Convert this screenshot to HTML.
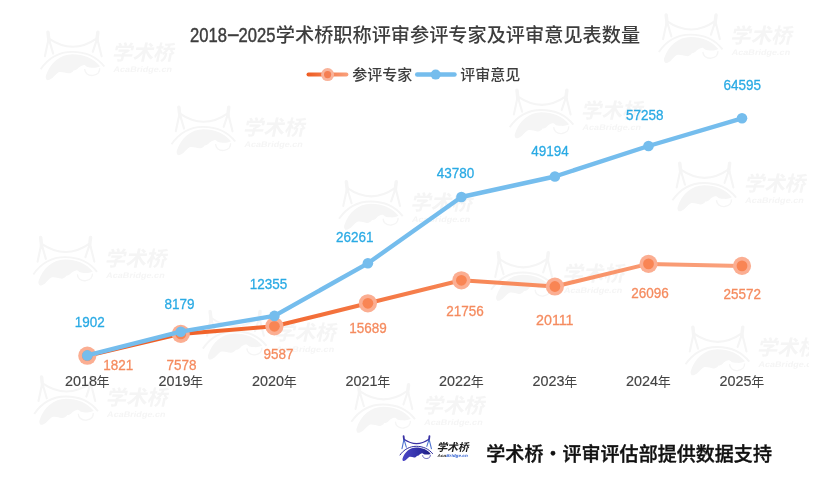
<!DOCTYPE html>
<html lang="zh-CN"><head><meta charset="utf-8"><title>2018-2025学术桥职称评审参评专家及评审意见表数量</title>
<style>
html,body{margin:0;padding:0;background:#fff;}
body{width:831px;height:483px;overflow:hidden;}
svg{display:block;}
text{font-family:"Liberation Sans","Noto Sans CJK SC",sans-serif;}
.cj{font-family:"Noto Sans CJK SC","Liberation Sans",sans-serif;}
</style></head><body>
<svg width="831" height="483" viewBox="0 0 831 483">
<defs>
<linearGradient id="og" gradientUnits="userSpaceOnUse" x1="87" y1="0" x2="742" y2="0">
<stop offset="0" stop-color="#EE5A1F"/><stop offset="0.3" stop-color="#F26A33"/><stop offset="0.6" stop-color="#F78858"/><stop offset="1" stop-color="#FAA27E"/>
</linearGradient>
<linearGradient id="lg" gradientUnits="userSpaceOnUse" x1="306" y1="0" x2="349" y2="0">
<stop offset="0" stop-color="#EE5A1F"/><stop offset="1" stop-color="#FAA27E"/>
</linearGradient>
<clipPath id="wmclip"><rect x="20" y="0" width="789" height="483"/></clipPath>
<linearGradient id="gg" x1="0" y1="0" x2="1" y2="0"><stop offset="0" stop-color="#4A45C6"/><stop offset="0.6" stop-color="#3030A6"/><stop offset="1" stop-color="#1C1C82"/></linearGradient>
<filter id="wb" x="0" y="0" width="831" height="483" filterUnits="userSpaceOnUse"><feGaussianBlur stdDeviation="0.6"/></filter>
</defs>
<rect width="831" height="483" fill="#fff"/>

<g clip-path="url(#wmclip)" filter="url(#wb)"><g transform="translate(41.6,31.4) scale(1.930)" opacity="1.0">
<path d="M3.3,0.4 L3.8,4.9 M29.15,0.4 L28.6,4.9" stroke="#f5f5f5" stroke-width="1.8" stroke-linecap="round" fill="none"/>
<path d="M3.6,4 L1.7,12.9 M3.8,4 L6,11.5 M28.7,4 L26.5,10.6 M28.9,4 L31.1,12.9" stroke="#f5f5f5" stroke-width="1.1" stroke-linecap="round" fill="none"/>
<path d="M3.65,3.6 Q16.3,12.3 28.6,3.6" stroke="#f5f5f5" stroke-width="1.05" fill="none"/>
<path d="M-0.5,19.6 C3.6,13.6 9.6,10.6 15.9,10.6 C22.6,10.6 28.6,13.2 32.5,18.2" stroke="#f5f5f5" stroke-width="1" fill="none"/>
<path d="M2.2,23 C4.4,16.2 9.6,11.8 16,11.8 C21.8,11.8 27,14 30.3,18 C28.6,19 27,18.9 25.8,18.8 C24.6,18.7 23.8,18.5 23.2,18.2 C22.6,17.6 22.2,17.3 21.6,17.5 C20.4,17.9 19.6,18.4 19,19 C18.4,19.8 17.4,20.2 16.6,20.2 C16,21.2 14.8,21.9 13.8,21.7 C12.2,21.5 10.4,20.7 8.8,21.2 C7.6,22 6.6,23.2 5.6,24.2 C4.6,25 3.4,25.4 2.7,25.2 C2.2,24.6 2,23.8 2.2,23 Z" fill="#f5f5f5"/>
<path d="M22.3,19.5 C22.4,20.6 22.8,21.4 23.4,21.9 C24.4,22.7 25.6,22.9 26.6,22.8 C27.8,22.6 28.8,22.2 29.3,21.6 C29.9,20.8 30.2,19.9 30.1,19.1" stroke="#f5f5f5" stroke-width="0.7" fill="none"/>
<text class="cj" transform="translate(36.4,15) skewX(-12)" font-size="10.7" font-weight="700" fill="#f5f5f5" textLength="32" lengthAdjust="spacingAndGlyphs">学术桥</text>
<text transform="translate(37,21.2) skewX(-12)" font-size="4.2" font-weight="700" textLength="30.3" lengthAdjust="spacingAndGlyphs"><tspan fill="#f5f5f5">Aca</tspan><tspan fill="#f5f5f5">Bridge.cn</tspan></text>
</g>
<g transform="translate(172.5,106.4) scale(1.930)" opacity="1.0">
<path d="M3.3,0.4 L3.8,4.9 M29.15,0.4 L28.6,4.9" stroke="#f5f5f5" stroke-width="1.8" stroke-linecap="round" fill="none"/>
<path d="M3.6,4 L1.7,12.9 M3.8,4 L6,11.5 M28.7,4 L26.5,10.6 M28.9,4 L31.1,12.9" stroke="#f5f5f5" stroke-width="1.1" stroke-linecap="round" fill="none"/>
<path d="M3.65,3.6 Q16.3,12.3 28.6,3.6" stroke="#f5f5f5" stroke-width="1.05" fill="none"/>
<path d="M-0.5,19.6 C3.6,13.6 9.6,10.6 15.9,10.6 C22.6,10.6 28.6,13.2 32.5,18.2" stroke="#f5f5f5" stroke-width="1" fill="none"/>
<path d="M2.2,23 C4.4,16.2 9.6,11.8 16,11.8 C21.8,11.8 27,14 30.3,18 C28.6,19 27,18.9 25.8,18.8 C24.6,18.7 23.8,18.5 23.2,18.2 C22.6,17.6 22.2,17.3 21.6,17.5 C20.4,17.9 19.6,18.4 19,19 C18.4,19.8 17.4,20.2 16.6,20.2 C16,21.2 14.8,21.9 13.8,21.7 C12.2,21.5 10.4,20.7 8.8,21.2 C7.6,22 6.6,23.2 5.6,24.2 C4.6,25 3.4,25.4 2.7,25.2 C2.2,24.6 2,23.8 2.2,23 Z" fill="#f5f5f5"/>
<path d="M22.3,19.5 C22.4,20.6 22.8,21.4 23.4,21.9 C24.4,22.7 25.6,22.9 26.6,22.8 C27.8,22.6 28.8,22.2 29.3,21.6 C29.9,20.8 30.2,19.9 30.1,19.1" stroke="#f5f5f5" stroke-width="0.7" fill="none"/>
<text class="cj" transform="translate(36.4,15) skewX(-12)" font-size="10.7" font-weight="700" fill="#f5f5f5" textLength="32" lengthAdjust="spacingAndGlyphs">学术桥</text>
<text transform="translate(37,21.2) skewX(-12)" font-size="4.2" font-weight="700" textLength="30.3" lengthAdjust="spacingAndGlyphs"><tspan fill="#f5f5f5">Aca</tspan><tspan fill="#f5f5f5">Bridge.cn</tspan></text>
</g>
<g transform="translate(340.0,181.0) scale(1.930)" opacity="1.0">
<path d="M3.3,0.4 L3.8,4.9 M29.15,0.4 L28.6,4.9" stroke="#f5f5f5" stroke-width="1.8" stroke-linecap="round" fill="none"/>
<path d="M3.6,4 L1.7,12.9 M3.8,4 L6,11.5 M28.7,4 L26.5,10.6 M28.9,4 L31.1,12.9" stroke="#f5f5f5" stroke-width="1.1" stroke-linecap="round" fill="none"/>
<path d="M3.65,3.6 Q16.3,12.3 28.6,3.6" stroke="#f5f5f5" stroke-width="1.05" fill="none"/>
<path d="M-0.5,19.6 C3.6,13.6 9.6,10.6 15.9,10.6 C22.6,10.6 28.6,13.2 32.5,18.2" stroke="#f5f5f5" stroke-width="1" fill="none"/>
<path d="M2.2,23 C4.4,16.2 9.6,11.8 16,11.8 C21.8,11.8 27,14 30.3,18 C28.6,19 27,18.9 25.8,18.8 C24.6,18.7 23.8,18.5 23.2,18.2 C22.6,17.6 22.2,17.3 21.6,17.5 C20.4,17.9 19.6,18.4 19,19 C18.4,19.8 17.4,20.2 16.6,20.2 C16,21.2 14.8,21.9 13.8,21.7 C12.2,21.5 10.4,20.7 8.8,21.2 C7.6,22 6.6,23.2 5.6,24.2 C4.6,25 3.4,25.4 2.7,25.2 C2.2,24.6 2,23.8 2.2,23 Z" fill="#f5f5f5"/>
<path d="M22.3,19.5 C22.4,20.6 22.8,21.4 23.4,21.9 C24.4,22.7 25.6,22.9 26.6,22.8 C27.8,22.6 28.8,22.2 29.3,21.6 C29.9,20.8 30.2,19.9 30.1,19.1" stroke="#f5f5f5" stroke-width="0.7" fill="none"/>
<text class="cj" transform="translate(36.4,15) skewX(-12)" font-size="10.7" font-weight="700" fill="#f5f5f5" textLength="32" lengthAdjust="spacingAndGlyphs">学术桥</text>
<text transform="translate(37,21.2) skewX(-12)" font-size="4.2" font-weight="700" textLength="30.3" lengthAdjust="spacingAndGlyphs"><tspan fill="#f5f5f5">Aca</tspan><tspan fill="#f5f5f5">Bridge.cn</tspan></text>
</g>
<g transform="translate(659.8,14.2) scale(1.930)" opacity="1.0">
<path d="M3.3,0.4 L3.8,4.9 M29.15,0.4 L28.6,4.9" stroke="#f5f5f5" stroke-width="1.8" stroke-linecap="round" fill="none"/>
<path d="M3.6,4 L1.7,12.9 M3.8,4 L6,11.5 M28.7,4 L26.5,10.6 M28.9,4 L31.1,12.9" stroke="#f5f5f5" stroke-width="1.1" stroke-linecap="round" fill="none"/>
<path d="M3.65,3.6 Q16.3,12.3 28.6,3.6" stroke="#f5f5f5" stroke-width="1.05" fill="none"/>
<path d="M-0.5,19.6 C3.6,13.6 9.6,10.6 15.9,10.6 C22.6,10.6 28.6,13.2 32.5,18.2" stroke="#f5f5f5" stroke-width="1" fill="none"/>
<path d="M2.2,23 C4.4,16.2 9.6,11.8 16,11.8 C21.8,11.8 27,14 30.3,18 C28.6,19 27,18.9 25.8,18.8 C24.6,18.7 23.8,18.5 23.2,18.2 C22.6,17.6 22.2,17.3 21.6,17.5 C20.4,17.9 19.6,18.4 19,19 C18.4,19.8 17.4,20.2 16.6,20.2 C16,21.2 14.8,21.9 13.8,21.7 C12.2,21.5 10.4,20.7 8.8,21.2 C7.6,22 6.6,23.2 5.6,24.2 C4.6,25 3.4,25.4 2.7,25.2 C2.2,24.6 2,23.8 2.2,23 Z" fill="#f5f5f5"/>
<path d="M22.3,19.5 C22.4,20.6 22.8,21.4 23.4,21.9 C24.4,22.7 25.6,22.9 26.6,22.8 C27.8,22.6 28.8,22.2 29.3,21.6 C29.9,20.8 30.2,19.9 30.1,19.1" stroke="#f5f5f5" stroke-width="0.7" fill="none"/>
<text class="cj" transform="translate(36.4,15) skewX(-12)" font-size="10.7" font-weight="700" fill="#f5f5f5" textLength="32" lengthAdjust="spacingAndGlyphs">学术桥</text>
<text transform="translate(37,21.2) skewX(-12)" font-size="4.2" font-weight="700" textLength="30.3" lengthAdjust="spacingAndGlyphs"><tspan fill="#f5f5f5">Aca</tspan><tspan fill="#f5f5f5">Bridge.cn</tspan></text>
</g>
<g transform="translate(510.6,89.5) scale(1.930)" opacity="1.0">
<path d="M3.3,0.4 L3.8,4.9 M29.15,0.4 L28.6,4.9" stroke="#f5f5f5" stroke-width="1.8" stroke-linecap="round" fill="none"/>
<path d="M3.6,4 L1.7,12.9 M3.8,4 L6,11.5 M28.7,4 L26.5,10.6 M28.9,4 L31.1,12.9" stroke="#f5f5f5" stroke-width="1.1" stroke-linecap="round" fill="none"/>
<path d="M3.65,3.6 Q16.3,12.3 28.6,3.6" stroke="#f5f5f5" stroke-width="1.05" fill="none"/>
<path d="M-0.5,19.6 C3.6,13.6 9.6,10.6 15.9,10.6 C22.6,10.6 28.6,13.2 32.5,18.2" stroke="#f5f5f5" stroke-width="1" fill="none"/>
<path d="M2.2,23 C4.4,16.2 9.6,11.8 16,11.8 C21.8,11.8 27,14 30.3,18 C28.6,19 27,18.9 25.8,18.8 C24.6,18.7 23.8,18.5 23.2,18.2 C22.6,17.6 22.2,17.3 21.6,17.5 C20.4,17.9 19.6,18.4 19,19 C18.4,19.8 17.4,20.2 16.6,20.2 C16,21.2 14.8,21.9 13.8,21.7 C12.2,21.5 10.4,20.7 8.8,21.2 C7.6,22 6.6,23.2 5.6,24.2 C4.6,25 3.4,25.4 2.7,25.2 C2.2,24.6 2,23.8 2.2,23 Z" fill="#f5f5f5"/>
<path d="M22.3,19.5 C22.4,20.6 22.8,21.4 23.4,21.9 C24.4,22.7 25.6,22.9 26.6,22.8 C27.8,22.6 28.8,22.2 29.3,21.6 C29.9,20.8 30.2,19.9 30.1,19.1" stroke="#f5f5f5" stroke-width="0.7" fill="none"/>
<text class="cj" transform="translate(36.4,15) skewX(-12)" font-size="10.7" font-weight="700" fill="#f5f5f5" textLength="32" lengthAdjust="spacingAndGlyphs">学术桥</text>
<text transform="translate(37,21.2) skewX(-12)" font-size="4.2" font-weight="700" textLength="30.3" lengthAdjust="spacingAndGlyphs"><tspan fill="#f5f5f5">Aca</tspan><tspan fill="#f5f5f5">Bridge.cn</tspan></text>
</g>
<g transform="translate(673.4,162.5) scale(1.930)" opacity="1.0">
<path d="M3.3,0.4 L3.8,4.9 M29.15,0.4 L28.6,4.9" stroke="#f5f5f5" stroke-width="1.8" stroke-linecap="round" fill="none"/>
<path d="M3.6,4 L1.7,12.9 M3.8,4 L6,11.5 M28.7,4 L26.5,10.6 M28.9,4 L31.1,12.9" stroke="#f5f5f5" stroke-width="1.1" stroke-linecap="round" fill="none"/>
<path d="M3.65,3.6 Q16.3,12.3 28.6,3.6" stroke="#f5f5f5" stroke-width="1.05" fill="none"/>
<path d="M-0.5,19.6 C3.6,13.6 9.6,10.6 15.9,10.6 C22.6,10.6 28.6,13.2 32.5,18.2" stroke="#f5f5f5" stroke-width="1" fill="none"/>
<path d="M2.2,23 C4.4,16.2 9.6,11.8 16,11.8 C21.8,11.8 27,14 30.3,18 C28.6,19 27,18.9 25.8,18.8 C24.6,18.7 23.8,18.5 23.2,18.2 C22.6,17.6 22.2,17.3 21.6,17.5 C20.4,17.9 19.6,18.4 19,19 C18.4,19.8 17.4,20.2 16.6,20.2 C16,21.2 14.8,21.9 13.8,21.7 C12.2,21.5 10.4,20.7 8.8,21.2 C7.6,22 6.6,23.2 5.6,24.2 C4.6,25 3.4,25.4 2.7,25.2 C2.2,24.6 2,23.8 2.2,23 Z" fill="#f5f5f5"/>
<path d="M22.3,19.5 C22.4,20.6 22.8,21.4 23.4,21.9 C24.4,22.7 25.6,22.9 26.6,22.8 C27.8,22.6 28.8,22.2 29.3,21.6 C29.9,20.8 30.2,19.9 30.1,19.1" stroke="#f5f5f5" stroke-width="0.7" fill="none"/>
<text class="cj" transform="translate(36.4,15) skewX(-12)" font-size="10.7" font-weight="700" fill="#f5f5f5" textLength="32" lengthAdjust="spacingAndGlyphs">学术桥</text>
<text transform="translate(37,21.2) skewX(-12)" font-size="4.2" font-weight="700" textLength="30.3" lengthAdjust="spacingAndGlyphs"><tspan fill="#f5f5f5">Aca</tspan><tspan fill="#f5f5f5">Bridge.cn</tspan></text>
</g>
<g transform="translate(34.3,236.7) scale(1.930)" opacity="1.0">
<path d="M3.3,0.4 L3.8,4.9 M29.15,0.4 L28.6,4.9" stroke="#f5f5f5" stroke-width="1.8" stroke-linecap="round" fill="none"/>
<path d="M3.6,4 L1.7,12.9 M3.8,4 L6,11.5 M28.7,4 L26.5,10.6 M28.9,4 L31.1,12.9" stroke="#f5f5f5" stroke-width="1.1" stroke-linecap="round" fill="none"/>
<path d="M3.65,3.6 Q16.3,12.3 28.6,3.6" stroke="#f5f5f5" stroke-width="1.05" fill="none"/>
<path d="M-0.5,19.6 C3.6,13.6 9.6,10.6 15.9,10.6 C22.6,10.6 28.6,13.2 32.5,18.2" stroke="#f5f5f5" stroke-width="1" fill="none"/>
<path d="M2.2,23 C4.4,16.2 9.6,11.8 16,11.8 C21.8,11.8 27,14 30.3,18 C28.6,19 27,18.9 25.8,18.8 C24.6,18.7 23.8,18.5 23.2,18.2 C22.6,17.6 22.2,17.3 21.6,17.5 C20.4,17.9 19.6,18.4 19,19 C18.4,19.8 17.4,20.2 16.6,20.2 C16,21.2 14.8,21.9 13.8,21.7 C12.2,21.5 10.4,20.7 8.8,21.2 C7.6,22 6.6,23.2 5.6,24.2 C4.6,25 3.4,25.4 2.7,25.2 C2.2,24.6 2,23.8 2.2,23 Z" fill="#f5f5f5"/>
<path d="M22.3,19.5 C22.4,20.6 22.8,21.4 23.4,21.9 C24.4,22.7 25.6,22.9 26.6,22.8 C27.8,22.6 28.8,22.2 29.3,21.6 C29.9,20.8 30.2,19.9 30.1,19.1" stroke="#f5f5f5" stroke-width="0.7" fill="none"/>
<text class="cj" transform="translate(36.4,15) skewX(-12)" font-size="10.7" font-weight="700" fill="#f5f5f5" textLength="32" lengthAdjust="spacingAndGlyphs">学术桥</text>
<text transform="translate(37,21.2) skewX(-12)" font-size="4.2" font-weight="700" textLength="30.3" lengthAdjust="spacingAndGlyphs"><tspan fill="#f5f5f5">Aca</tspan><tspan fill="#f5f5f5">Bridge.cn</tspan></text>
</g>
<g transform="translate(203.8,310.8) scale(1.930)" opacity="1.0">
<path d="M3.3,0.4 L3.8,4.9 M29.15,0.4 L28.6,4.9" stroke="#f5f5f5" stroke-width="1.8" stroke-linecap="round" fill="none"/>
<path d="M3.6,4 L1.7,12.9 M3.8,4 L6,11.5 M28.7,4 L26.5,10.6 M28.9,4 L31.1,12.9" stroke="#f5f5f5" stroke-width="1.1" stroke-linecap="round" fill="none"/>
<path d="M3.65,3.6 Q16.3,12.3 28.6,3.6" stroke="#f5f5f5" stroke-width="1.05" fill="none"/>
<path d="M-0.5,19.6 C3.6,13.6 9.6,10.6 15.9,10.6 C22.6,10.6 28.6,13.2 32.5,18.2" stroke="#f5f5f5" stroke-width="1" fill="none"/>
<path d="M2.2,23 C4.4,16.2 9.6,11.8 16,11.8 C21.8,11.8 27,14 30.3,18 C28.6,19 27,18.9 25.8,18.8 C24.6,18.7 23.8,18.5 23.2,18.2 C22.6,17.6 22.2,17.3 21.6,17.5 C20.4,17.9 19.6,18.4 19,19 C18.4,19.8 17.4,20.2 16.6,20.2 C16,21.2 14.8,21.9 13.8,21.7 C12.2,21.5 10.4,20.7 8.8,21.2 C7.6,22 6.6,23.2 5.6,24.2 C4.6,25 3.4,25.4 2.7,25.2 C2.2,24.6 2,23.8 2.2,23 Z" fill="#f5f5f5"/>
<path d="M22.3,19.5 C22.4,20.6 22.8,21.4 23.4,21.9 C24.4,22.7 25.6,22.9 26.6,22.8 C27.8,22.6 28.8,22.2 29.3,21.6 C29.9,20.8 30.2,19.9 30.1,19.1" stroke="#f5f5f5" stroke-width="0.7" fill="none"/>
<text class="cj" transform="translate(36.4,15) skewX(-12)" font-size="10.7" font-weight="700" fill="#f5f5f5" textLength="32" lengthAdjust="spacingAndGlyphs">学术桥</text>
<text transform="translate(37,21.2) skewX(-12)" font-size="4.2" font-weight="700" textLength="30.3" lengthAdjust="spacingAndGlyphs"><tspan fill="#f5f5f5">Aca</tspan><tspan fill="#f5f5f5">Bridge.cn</tspan></text>
</g>
<g transform="translate(35.2,376.1) scale(1.930)" opacity="1.0">
<path d="M3.3,0.4 L3.8,4.9 M29.15,0.4 L28.6,4.9" stroke="#f5f5f5" stroke-width="1.8" stroke-linecap="round" fill="none"/>
<path d="M3.6,4 L1.7,12.9 M3.8,4 L6,11.5 M28.7,4 L26.5,10.6 M28.9,4 L31.1,12.9" stroke="#f5f5f5" stroke-width="1.1" stroke-linecap="round" fill="none"/>
<path d="M3.65,3.6 Q16.3,12.3 28.6,3.6" stroke="#f5f5f5" stroke-width="1.05" fill="none"/>
<path d="M-0.5,19.6 C3.6,13.6 9.6,10.6 15.9,10.6 C22.6,10.6 28.6,13.2 32.5,18.2" stroke="#f5f5f5" stroke-width="1" fill="none"/>
<path d="M2.2,23 C4.4,16.2 9.6,11.8 16,11.8 C21.8,11.8 27,14 30.3,18 C28.6,19 27,18.9 25.8,18.8 C24.6,18.7 23.8,18.5 23.2,18.2 C22.6,17.6 22.2,17.3 21.6,17.5 C20.4,17.9 19.6,18.4 19,19 C18.4,19.8 17.4,20.2 16.6,20.2 C16,21.2 14.8,21.9 13.8,21.7 C12.2,21.5 10.4,20.7 8.8,21.2 C7.6,22 6.6,23.2 5.6,24.2 C4.6,25 3.4,25.4 2.7,25.2 C2.2,24.6 2,23.8 2.2,23 Z" fill="#f5f5f5"/>
<path d="M22.3,19.5 C22.4,20.6 22.8,21.4 23.4,21.9 C24.4,22.7 25.6,22.9 26.6,22.8 C27.8,22.6 28.8,22.2 29.3,21.6 C29.9,20.8 30.2,19.9 30.1,19.1" stroke="#f5f5f5" stroke-width="0.7" fill="none"/>
<text class="cj" transform="translate(36.4,15) skewX(-12)" font-size="10.7" font-weight="700" fill="#f5f5f5" textLength="32" lengthAdjust="spacingAndGlyphs">学术桥</text>
<text transform="translate(37,21.2) skewX(-12)" font-size="4.2" font-weight="700" textLength="30.3" lengthAdjust="spacingAndGlyphs"><tspan fill="#f5f5f5">Aca</tspan><tspan fill="#f5f5f5">Bridge.cn</tspan></text>
</g>
<g transform="translate(352.3,384.0) scale(1.930)" opacity="1.0">
<path d="M3.3,0.4 L3.8,4.9 M29.15,0.4 L28.6,4.9" stroke="#f5f5f5" stroke-width="1.8" stroke-linecap="round" fill="none"/>
<path d="M3.6,4 L1.7,12.9 M3.8,4 L6,11.5 M28.7,4 L26.5,10.6 M28.9,4 L31.1,12.9" stroke="#f5f5f5" stroke-width="1.1" stroke-linecap="round" fill="none"/>
<path d="M3.65,3.6 Q16.3,12.3 28.6,3.6" stroke="#f5f5f5" stroke-width="1.05" fill="none"/>
<path d="M-0.5,19.6 C3.6,13.6 9.6,10.6 15.9,10.6 C22.6,10.6 28.6,13.2 32.5,18.2" stroke="#f5f5f5" stroke-width="1" fill="none"/>
<path d="M2.2,23 C4.4,16.2 9.6,11.8 16,11.8 C21.8,11.8 27,14 30.3,18 C28.6,19 27,18.9 25.8,18.8 C24.6,18.7 23.8,18.5 23.2,18.2 C22.6,17.6 22.2,17.3 21.6,17.5 C20.4,17.9 19.6,18.4 19,19 C18.4,19.8 17.4,20.2 16.6,20.2 C16,21.2 14.8,21.9 13.8,21.7 C12.2,21.5 10.4,20.7 8.8,21.2 C7.6,22 6.6,23.2 5.6,24.2 C4.6,25 3.4,25.4 2.7,25.2 C2.2,24.6 2,23.8 2.2,23 Z" fill="#f5f5f5"/>
<path d="M22.3,19.5 C22.4,20.6 22.8,21.4 23.4,21.9 C24.4,22.7 25.6,22.9 26.6,22.8 C27.8,22.6 28.8,22.2 29.3,21.6 C29.9,20.8 30.2,19.9 30.1,19.1" stroke="#f5f5f5" stroke-width="0.7" fill="none"/>
<text class="cj" transform="translate(36.4,15) skewX(-12)" font-size="10.7" font-weight="700" fill="#f5f5f5" textLength="32" lengthAdjust="spacingAndGlyphs">学术桥</text>
<text transform="translate(37,21.2) skewX(-12)" font-size="4.2" font-weight="700" textLength="30.3" lengthAdjust="spacingAndGlyphs"><tspan fill="#f5f5f5">Aca</tspan><tspan fill="#f5f5f5">Bridge.cn</tspan></text>
</g>
<g transform="translate(686.5,326.5) scale(1.930)" opacity="1.0">
<path d="M3.3,0.4 L3.8,4.9 M29.15,0.4 L28.6,4.9" stroke="#f5f5f5" stroke-width="1.8" stroke-linecap="round" fill="none"/>
<path d="M3.6,4 L1.7,12.9 M3.8,4 L6,11.5 M28.7,4 L26.5,10.6 M28.9,4 L31.1,12.9" stroke="#f5f5f5" stroke-width="1.1" stroke-linecap="round" fill="none"/>
<path d="M3.65,3.6 Q16.3,12.3 28.6,3.6" stroke="#f5f5f5" stroke-width="1.05" fill="none"/>
<path d="M-0.5,19.6 C3.6,13.6 9.6,10.6 15.9,10.6 C22.6,10.6 28.6,13.2 32.5,18.2" stroke="#f5f5f5" stroke-width="1" fill="none"/>
<path d="M2.2,23 C4.4,16.2 9.6,11.8 16,11.8 C21.8,11.8 27,14 30.3,18 C28.6,19 27,18.9 25.8,18.8 C24.6,18.7 23.8,18.5 23.2,18.2 C22.6,17.6 22.2,17.3 21.6,17.5 C20.4,17.9 19.6,18.4 19,19 C18.4,19.8 17.4,20.2 16.6,20.2 C16,21.2 14.8,21.9 13.8,21.7 C12.2,21.5 10.4,20.7 8.8,21.2 C7.6,22 6.6,23.2 5.6,24.2 C4.6,25 3.4,25.4 2.7,25.2 C2.2,24.6 2,23.8 2.2,23 Z" fill="#f5f5f5"/>
<path d="M22.3,19.5 C22.4,20.6 22.8,21.4 23.4,21.9 C24.4,22.7 25.6,22.9 26.6,22.8 C27.8,22.6 28.8,22.2 29.3,21.6 C29.9,20.8 30.2,19.9 30.1,19.1" stroke="#f5f5f5" stroke-width="0.7" fill="none"/>
<text class="cj" transform="translate(36.4,15) skewX(-12)" font-size="10.7" font-weight="700" fill="#f5f5f5" textLength="32" lengthAdjust="spacingAndGlyphs">学术桥</text>
<text transform="translate(37,21.2) skewX(-12)" font-size="4.2" font-weight="700" textLength="30.3" lengthAdjust="spacingAndGlyphs"><tspan fill="#f5f5f5">Aca</tspan><tspan fill="#f5f5f5">Bridge.cn</tspan></text>
</g>
<g transform="translate(492.0,252.0) scale(1.930)" opacity="1.0">
<path d="M3.3,0.4 L3.8,4.9 M29.15,0.4 L28.6,4.9" stroke="#f5f5f5" stroke-width="1.8" stroke-linecap="round" fill="none"/>
<path d="M3.6,4 L1.7,12.9 M3.8,4 L6,11.5 M28.7,4 L26.5,10.6 M28.9,4 L31.1,12.9" stroke="#f5f5f5" stroke-width="1.1" stroke-linecap="round" fill="none"/>
<path d="M3.65,3.6 Q16.3,12.3 28.6,3.6" stroke="#f5f5f5" stroke-width="1.05" fill="none"/>
<path d="M-0.5,19.6 C3.6,13.6 9.6,10.6 15.9,10.6 C22.6,10.6 28.6,13.2 32.5,18.2" stroke="#f5f5f5" stroke-width="1" fill="none"/>
<path d="M2.2,23 C4.4,16.2 9.6,11.8 16,11.8 C21.8,11.8 27,14 30.3,18 C28.6,19 27,18.9 25.8,18.8 C24.6,18.7 23.8,18.5 23.2,18.2 C22.6,17.6 22.2,17.3 21.6,17.5 C20.4,17.9 19.6,18.4 19,19 C18.4,19.8 17.4,20.2 16.6,20.2 C16,21.2 14.8,21.9 13.8,21.7 C12.2,21.5 10.4,20.7 8.8,21.2 C7.6,22 6.6,23.2 5.6,24.2 C4.6,25 3.4,25.4 2.7,25.2 C2.2,24.6 2,23.8 2.2,23 Z" fill="#f5f5f5"/>
<path d="M22.3,19.5 C22.4,20.6 22.8,21.4 23.4,21.9 C24.4,22.7 25.6,22.9 26.6,22.8 C27.8,22.6 28.8,22.2 29.3,21.6 C29.9,20.8 30.2,19.9 30.1,19.1" stroke="#f5f5f5" stroke-width="0.7" fill="none"/>
<text class="cj" transform="translate(36.4,15) skewX(-12)" font-size="10.7" font-weight="700" fill="#f5f5f5" textLength="32" lengthAdjust="spacingAndGlyphs">学术桥</text>
<text transform="translate(37,21.2) skewX(-12)" font-size="4.2" font-weight="700" textLength="30.3" lengthAdjust="spacingAndGlyphs"><tspan fill="#f5f5f5">Aca</tspan><tspan fill="#f5f5f5">Bridge.cn</tspan></text>
</g></g>
<g font-size="20" fill="#3d3d3d" stroke="#3d3d3d" stroke-width="0.45"><text x="190" y="42.1" textLength="36.9" lengthAdjust="spacingAndGlyphs">2018</text><text x="226.6" y="41.3" textLength="13.6" lengthAdjust="spacingAndGlyphs">-</text><text x="238.5" y="42.1" textLength="36.9" lengthAdjust="spacingAndGlyphs">2025</text></g>
<text class="cj" x="275.8" y="42" font-size="19.18" font-weight="500" fill="#3d3d3d">学术桥职称评审参评专家及评审意见表数量</text>
<line x1="308.5" y1="74.6" x2="346.4" y2="74.6" stroke="url(#lg)" stroke-width="4" stroke-linecap="round"/>
<circle cx="327.6" cy="74.6" r="6.5" fill="#F9B39A"/><circle cx="327.6" cy="74.6" r="3.6" fill="#F57F52"/>
<text class="cj" x="352.2" y="79.6" font-size="15" font-weight="500" fill="#3d3d3d">参评专家</text>
<line x1="417.2" y1="74.6" x2="454.5" y2="74.6" stroke="#75BDED" stroke-width="4.5" stroke-linecap="round"/>
<circle cx="435.7" cy="74.6" r="5" fill="#75BDED"/>
<text class="cj" x="460.2" y="79.6" font-size="15" font-weight="500" fill="#3d3d3d">评审意见</text>
<polyline points="87.3,355.7 180.8,333.9 274.4,326.3 367.9,303.3 461.4,280.3 554.9,286.5 648.5,263.9 742.0,265.9" fill="none" stroke="url(#og)" stroke-width="4" stroke-linejoin="round" stroke-linecap="round"/>
<circle cx="87.3" cy="355.7" r="9.1" fill="#FBAE92"/><circle cx="87.3" cy="355.7" r="5.4" fill="#F98554"/>
<circle cx="180.8" cy="333.9" r="9.1" fill="#FBAE92"/><circle cx="180.8" cy="333.9" r="5.4" fill="#F98554"/>
<circle cx="274.4" cy="326.3" r="9.1" fill="#FBAE92"/><circle cx="274.4" cy="326.3" r="5.4" fill="#F98554"/>
<circle cx="367.9" cy="303.3" r="9.1" fill="#FBAE92"/><circle cx="367.9" cy="303.3" r="5.4" fill="#F98554"/>
<circle cx="461.4" cy="280.3" r="9.1" fill="#FBAE92"/><circle cx="461.4" cy="280.3" r="5.4" fill="#F98554"/>
<circle cx="554.9" cy="286.5" r="9.1" fill="#FBAE92"/><circle cx="554.9" cy="286.5" r="5.4" fill="#F98554"/>
<circle cx="648.5" cy="263.9" r="9.1" fill="#FBAE92"/><circle cx="648.5" cy="263.9" r="5.4" fill="#F98554"/>
<circle cx="742.0" cy="265.9" r="9.1" fill="#FBAE92"/><circle cx="742.0" cy="265.9" r="5.4" fill="#F98554"/>
<polyline points="87.3,355.4 180.8,331.7 274.4,315.9 367.9,263.3 461.4,197.0 554.9,176.5 648.5,146.0 742.0,118.3" fill="none" stroke="#75BDED" stroke-width="4.4" stroke-linejoin="round" stroke-linecap="round"/>
<circle cx="87.3" cy="355.4" r="5.3" fill="#75BDED"/>
<circle cx="180.8" cy="331.7" r="5.3" fill="#75BDED"/>
<circle cx="274.4" cy="315.9" r="5.3" fill="#75BDED"/>
<circle cx="367.9" cy="263.3" r="5.3" fill="#75BDED"/>
<circle cx="461.4" cy="197.0" r="5.3" fill="#75BDED"/>
<circle cx="554.9" cy="176.5" r="5.3" fill="#75BDED"/>
<circle cx="648.5" cy="146.0" r="5.3" fill="#75BDED"/>
<circle cx="742.0" cy="118.3" r="5.3" fill="#75BDED"/>
<text x="89.7" y="327.0" font-size="15" fill="#2AAAE4" stroke="#2AAAE4" stroke-width="0.3" text-anchor="middle" textLength="30.0" lengthAdjust="spacingAndGlyphs">1902</text>
<text x="179.4" y="309.0" font-size="15" fill="#2AAAE4" stroke="#2AAAE4" stroke-width="0.3" text-anchor="middle" textLength="30.0" lengthAdjust="spacingAndGlyphs">8179</text>
<text x="268.5" y="288.6" font-size="15" fill="#2AAAE4" stroke="#2AAAE4" stroke-width="0.3" text-anchor="middle" textLength="37.5" lengthAdjust="spacingAndGlyphs">12355</text>
<text x="354.8" y="241.8" font-size="15" fill="#2AAAE4" stroke="#2AAAE4" stroke-width="0.3" text-anchor="middle" textLength="37.5" lengthAdjust="spacingAndGlyphs">26261</text>
<text x="455.4" y="178.1" font-size="15" fill="#2AAAE4" stroke="#2AAAE4" stroke-width="0.3" text-anchor="middle" textLength="37.5" lengthAdjust="spacingAndGlyphs">43780</text>
<text x="550.1" y="156.0" font-size="15" fill="#2AAAE4" stroke="#2AAAE4" stroke-width="0.3" text-anchor="middle" textLength="37.5" lengthAdjust="spacingAndGlyphs">49194</text>
<text x="644.8" y="120.2" font-size="15" fill="#2AAAE4" stroke="#2AAAE4" stroke-width="0.3" text-anchor="middle" textLength="37.5" lengthAdjust="spacingAndGlyphs">57258</text>
<text x="742.3" y="89.9" font-size="15" fill="#2AAAE4" stroke="#2AAAE4" stroke-width="0.3" text-anchor="middle" textLength="37.5" lengthAdjust="spacingAndGlyphs">64595</text>
<text x="118.2" y="370.0" font-size="15" fill="#F58B5F" stroke="#F58B5F" stroke-width="0.3" text-anchor="middle" textLength="30.0" lengthAdjust="spacingAndGlyphs">1821</text>
<text x="181.4" y="369.5" font-size="15" fill="#F58B5F" stroke="#F58B5F" stroke-width="0.3" text-anchor="middle" textLength="30.0" lengthAdjust="spacingAndGlyphs">7578</text>
<text x="278.4" y="359.2" font-size="15" fill="#F58B5F" stroke="#F58B5F" stroke-width="0.3" text-anchor="middle" textLength="30.0" lengthAdjust="spacingAndGlyphs">9587</text>
<text x="368.0" y="333.3" font-size="15" fill="#F58B5F" stroke="#F58B5F" stroke-width="0.3" text-anchor="middle" textLength="37.5" lengthAdjust="spacingAndGlyphs">15689</text>
<text x="465.1" y="315.5" font-size="15" fill="#F58B5F" stroke="#F58B5F" stroke-width="0.3" text-anchor="middle" textLength="37.5" lengthAdjust="spacingAndGlyphs">21756</text>
<text x="554.8" y="324.7" font-size="15" fill="#F58B5F" stroke="#F58B5F" stroke-width="0.3" text-anchor="middle" textLength="37.5" lengthAdjust="spacingAndGlyphs">20111</text>
<text x="650.0" y="298.2" font-size="15" fill="#F58B5F" stroke="#F58B5F" stroke-width="0.3" text-anchor="middle" textLength="37.5" lengthAdjust="spacingAndGlyphs">26096</text>
<text x="742.2" y="299.2" font-size="15" fill="#F58B5F" stroke="#F58B5F" stroke-width="0.3" text-anchor="middle" textLength="37.5" lengthAdjust="spacingAndGlyphs">25572</text>
<text x="64.9" y="386.2" font-size="14" fill="#444" stroke="#444" stroke-width="0.15" textLength="32" lengthAdjust="spacingAndGlyphs">2018</text>
<text class="cj" x="96.6" y="385.9" font-size="13" font-weight="400" fill="#444">年</text>
<text x="158.4" y="386.2" font-size="14" fill="#444" stroke="#444" stroke-width="0.15" textLength="32" lengthAdjust="spacingAndGlyphs">2019</text>
<text class="cj" x="190.1" y="385.9" font-size="13" font-weight="400" fill="#444">年</text>
<text x="252.0" y="386.2" font-size="14" fill="#444" stroke="#444" stroke-width="0.15" textLength="32" lengthAdjust="spacingAndGlyphs">2020</text>
<text class="cj" x="283.7" y="385.9" font-size="13" font-weight="400" fill="#444">年</text>
<text x="345.5" y="386.2" font-size="14" fill="#444" stroke="#444" stroke-width="0.15" textLength="32" lengthAdjust="spacingAndGlyphs">2021</text>
<text class="cj" x="377.2" y="385.9" font-size="13" font-weight="400" fill="#444">年</text>
<text x="439.0" y="386.2" font-size="14" fill="#444" stroke="#444" stroke-width="0.15" textLength="32" lengthAdjust="spacingAndGlyphs">2022</text>
<text class="cj" x="470.7" y="385.9" font-size="13" font-weight="400" fill="#444">年</text>
<text x="532.5" y="386.2" font-size="14" fill="#444" stroke="#444" stroke-width="0.15" textLength="32" lengthAdjust="spacingAndGlyphs">2023</text>
<text class="cj" x="564.2" y="385.9" font-size="13" font-weight="400" fill="#444">年</text>
<text x="626.1" y="386.2" font-size="14" fill="#444" stroke="#444" stroke-width="0.15" textLength="32" lengthAdjust="spacingAndGlyphs">2024</text>
<text class="cj" x="657.8" y="385.9" font-size="13" font-weight="400" fill="#444">年</text>
<text x="719.6" y="386.2" font-size="14" fill="#444" stroke="#444" stroke-width="0.15" textLength="32" lengthAdjust="spacingAndGlyphs">2025</text>
<text class="cj" x="751.3" y="385.9" font-size="13" font-weight="400" fill="#444">年</text>
<g transform="translate(400.3,435.7) scale(1.000)" opacity="1.0">
<path d="M3.3,0.4 L3.8,4.9 M29.15,0.4 L28.6,4.9" stroke="#3A32A4" stroke-width="1.8" stroke-linecap="round" fill="none"/>
<path d="M3.6,4 L1.7,12.9 M3.8,4 L6,11.5 M28.7,4 L26.5,10.6 M28.9,4 L31.1,12.9" stroke="#4F74D0" stroke-width="1.1" stroke-linecap="round" fill="none"/>
<path d="M3.65,3.6 Q16.3,12.3 28.6,3.6" stroke="#3A32A4" stroke-width="1.05" fill="none"/>
<path d="M-0.5,19.6 C3.6,13.6 9.6,10.6 15.9,10.6 C22.6,10.6 28.6,13.2 32.5,18.2" stroke="#2E2CA0" stroke-width="1" fill="none"/>
<path d="M2.2,23 C4.4,16.2 9.6,11.8 16,11.8 C21.8,11.8 27,14 30.3,18 C28.6,19 27,18.9 25.8,18.8 C24.6,18.7 23.8,18.5 23.2,18.2 C22.6,17.6 22.2,17.3 21.6,17.5 C20.4,17.9 19.6,18.4 19,19 C18.4,19.8 17.4,20.2 16.6,20.2 C16,21.2 14.8,21.9 13.8,21.7 C12.2,21.5 10.4,20.7 8.8,21.2 C7.6,22 6.6,23.2 5.6,24.2 C4.6,25 3.4,25.4 2.7,25.2 C2.2,24.6 2,23.8 2.2,23 Z" fill="url(#gg)"/>
<path d="M22.3,19.5 C22.4,20.6 22.8,21.4 23.4,21.9 C24.4,22.7 25.6,22.9 26.6,22.8 C27.8,22.6 28.8,22.2 29.3,21.6 C29.9,20.8 30.2,19.9 30.1,19.1" stroke="#2E2CA0" stroke-width="0.7" fill="none"/>
<text class="cj" transform="translate(36.4,15) skewX(-12)" font-size="10.7" font-weight="700" fill="#1c1c1c" textLength="32" lengthAdjust="spacingAndGlyphs">学术桥</text>
<text transform="translate(37,21.2) skewX(-12)" font-size="4.2" font-weight="700" textLength="30.3" lengthAdjust="spacingAndGlyphs"><tspan fill="#1c1c1c">Aca</tspan><tspan fill="#2F5FD0">Bridge.cn</tspan></text>
</g>
<text class="cj" x="486.3" y="461" font-size="19" font-weight="500" fill="#111" stroke="#111" stroke-width="0.4" textLength="285.6" lengthAdjust="spacing">学术桥·评审评估部提供数据支持</text>
</svg></body></html>
